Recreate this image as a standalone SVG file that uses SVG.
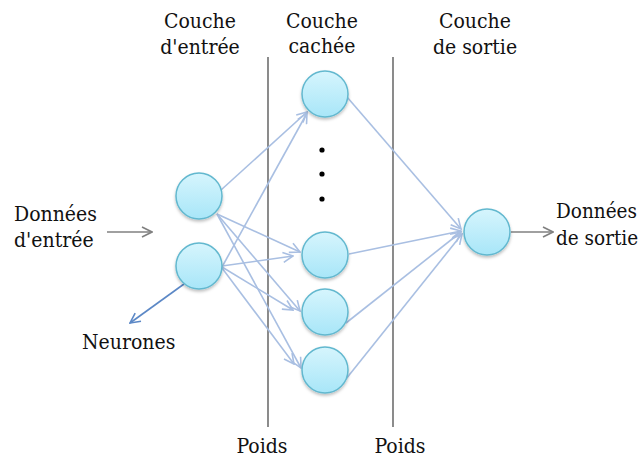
<svg xmlns="http://www.w3.org/2000/svg" width="640" height="457" viewBox="0 0 640 457">
<style>
text{font-family:"DejaVu Serif Condensed","DejaVu Serif",serif;font-size:21px;fill:#111}
.c{text-anchor:middle}
.node{fill:url(#g);stroke:#62b8cf;stroke-width:1.5;filter:url(#sh)}
.w{stroke:#a9bfe2;stroke-width:1.6;fill:none;marker-end:url(#ab)}
.sep{stroke:#7f7f7f;stroke-width:1.8}
</style>
<defs>
<linearGradient id="g" x1="0" y1="0" x2="0" y2="1">
<stop offset="0" stop-color="#d6f5fd"/>
<stop offset="1" stop-color="#a8e6f8"/>
</linearGradient>
<filter id="sh" x="-30%" y="-30%" width="160%" height="170%">
<feDropShadow dx="0" dy="2" stdDeviation="1.5" flood-color="#000" flood-opacity="0.25"/>
</filter>
<marker id="ab" viewBox="0 0 12 12" refX="11" refY="6" markerWidth="12" markerHeight="12" markerUnits="userSpaceOnUse" orient="auto">
<path d="M1,1 L11,6 L1,11" fill="none" stroke="#a9bfe2" stroke-width="1.6"/>
</marker>
<marker id="ag" viewBox="0 0 12 12" refX="11" refY="6" markerWidth="12" markerHeight="12" markerUnits="userSpaceOnUse" orient="auto">
<path d="M1,1 L11,6 L1,11" fill="none" stroke="#808080" stroke-width="1.6"/>
</marker>
<marker id="an" viewBox="0 0 12 12" refX="11" refY="6" markerWidth="12" markerHeight="12" markerUnits="userSpaceOnUse" orient="auto">
<path d="M1,1 L11,6 L1,11" fill="none" stroke="#5c88c6" stroke-width="1.6"/>
</marker>
</defs>
<rect width="640" height="457" fill="#fff"/>
<g id="separators">
<line class="sep" x1="268" y1="57" x2="268" y2="427"/>
<line class="sep" x1="393" y1="57" x2="393" y2="427"/>
</g>
<g id="connectors">
<line class="w" x1="221" y1="190" x2="307" y2="112"/>
<line class="w" x1="217" y1="214" x2="300" y2="252"/>
<line class="w" x1="217" y1="214" x2="300" y2="311"/>
<line class="w" x1="217" y1="214" x2="301" y2="368"/>
<line class="w" x1="222" y1="267" x2="307" y2="113"/>
<line class="w" x1="222" y1="266" x2="293" y2="256"/>
<line class="w" x1="222" y1="267" x2="293" y2="310"/>
<line class="w" x1="222" y1="268" x2="294" y2="364"/>
<line class="w" x1="347" y1="97" x2="461" y2="229"/>
<line class="w" x1="349" y1="254" x2="461" y2="231"/>
<line class="w" x1="346" y1="323" x2="461" y2="232"/>
<line class="w" x1="346" y1="379" x2="462" y2="234"/>
<line x1="107" y1="232" x2="152" y2="232" stroke="#808080" stroke-width="1.6" marker-end="url(#ag)"/>
<line x1="511" y1="232" x2="553" y2="232" stroke="#808080" stroke-width="1.6" marker-end="url(#ag)"/>
<line x1="184" y1="284" x2="130" y2="323" stroke="#5c88c6" stroke-width="1.6" marker-end="url(#an)"/>
</g>
<g id="input1"><circle class="node" cx="199" cy="196" r="23"/></g>
<g id="input2"><circle class="node" cx="199" cy="266" r="23"/></g>
<g id="hidden1"><circle class="node" cx="325" cy="94" r="23"/></g>
<g id="dots" fill="#000">
<circle cx="322" cy="150" r="2.6"/>
<circle cx="322" cy="174" r="2.6"/>
<circle cx="322" cy="199" r="2.6"/>
</g>
<g id="hidden2"><circle class="node" cx="325" cy="255" r="23"/></g>
<g id="hidden3"><circle class="node" cx="325" cy="312" r="23"/></g>
<g id="hidden4"><circle class="node" cx="325" cy="370" r="23"/></g>
<g id="output"><circle class="node" cx="487" cy="232" r="23"/></g>
<g id="labels">
<text class="c" x="200" y="28">Couche</text>
<text class="c" x="200" y="54">d'entrée</text>
<text class="c" x="322" y="28">Couche</text>
<text class="c" x="322" y="53">cachée</text>
<text class="c" x="475" y="28">Couche</text>
<text class="c" x="475" y="54">de sortie</text>
<text x="14" y="221">Données</text>
<text x="14" y="247">d'entrée</text>
<text x="556" y="218" style="font-size:20.5px">Données</text>
<text x="556" y="245" style="font-size:20.5px">de sortie</text>
<text x="82" y="349">Neurones</text>
<text class="c" x="262" y="453">Poids</text>
<text class="c" x="400" y="453">Poids</text>
</g>
</svg>
